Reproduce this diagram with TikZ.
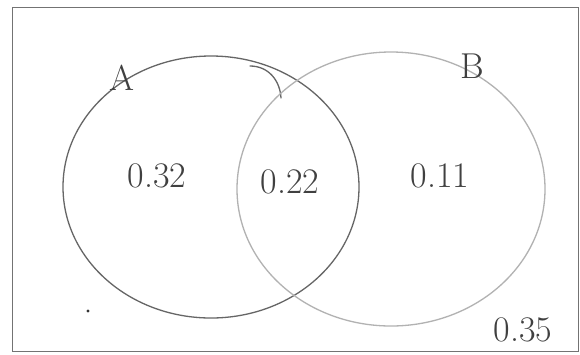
\documentclass[tikz,border=0pt]{standalone}
\begin{document}
\begin{tikzpicture}[x=1pt,y=-1pt,
  pencil/.style={line width=1.3pt,line cap=round},
  lab/.style={text=black!75,font=\fontsize{36}{40}\selectfont,inner sep=0pt}]
\useasboundingbox (0,0) rectangle (580,354);
\fill[white] (0,0) rectangle (580,354);
\draw[black!55,line width=1pt] (12,7) -- (578,7) -- (578,351) -- (12,351) -- cycle;
% circle A
\draw[pencil,black!60] (211,187) ellipse [x radius=148,y radius=131];
% extra stroke at top of A
\draw[pencil,black!60] (250,66) .. controls (268,66) and (280,80) .. (281,98);
% circle B
\draw[pencil,black!30] (391,189) ellipse [x radius=154,y radius=137];
\node[lab] (A) at (122,78) {A};
\node[lab] (B) at (472,66) {B};
\node[lab] (p1) at (157,176) {0.32};
\node[lab] (p2) at (290,182) {0.22};
\node[lab] (p3) at (440,176) {0.11};
\node[lab] (p4) at (523,330) {0.35};
\fill[black!80] (88,311) circle (1.6);
\end{tikzpicture}
\end{document}
